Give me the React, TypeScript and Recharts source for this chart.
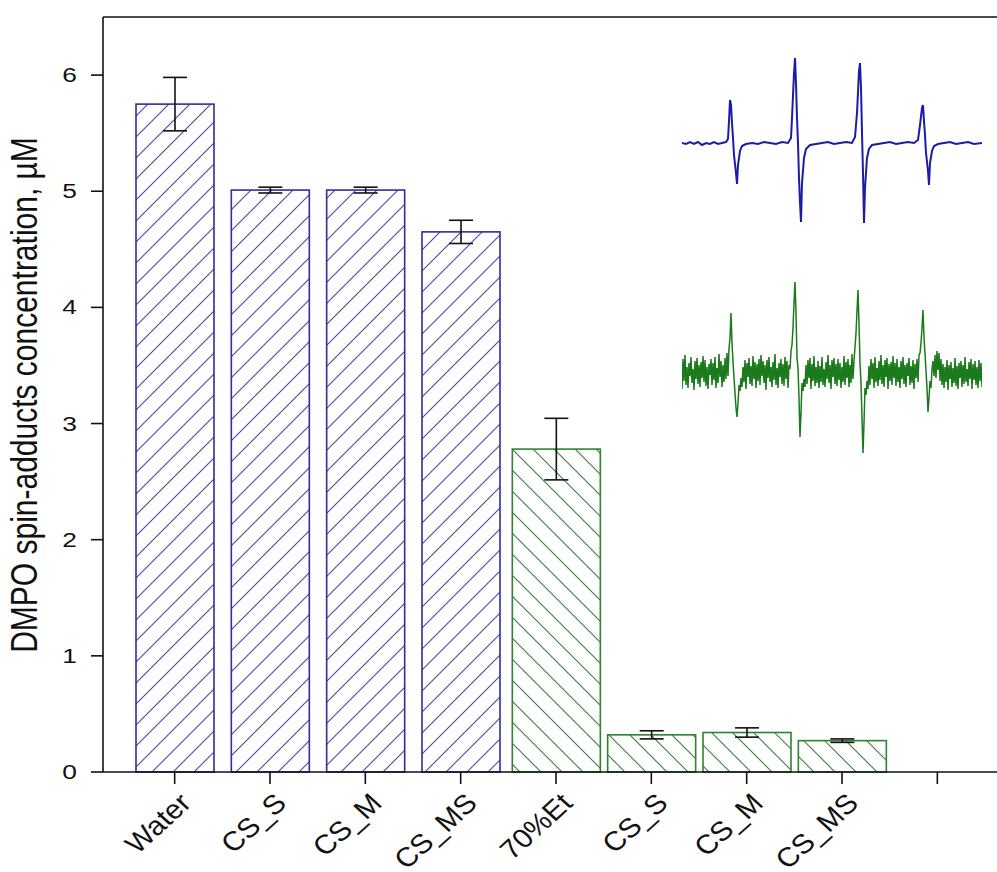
import { Bar, BarChart, ErrorBar, Label, Line, LineChart, ReferenceLine, XAxis, YAxis } from 'recharts';

// bar chart values
const samples = ['Water', 'CS_S', 'CS_M', 'CS_MS', '70%Et', 'CS_S', 'CS_M', 'CS_MS', ''];
const solvents = ['water', 'water', 'water', 'water', 'ethanol', 'ethanol', 'ethanol', 'ethanol', 'none'];
const concentration = [5.75, 5.01, 5.01, 4.65, 2.78, 0.32, 0.34, 0.27, null];
const concentrationSd = [0.23, 0.025, 0.025, 0.1, 0.265, 0.035, 0.04, 0.015, null];
const yTicks = [0, 1, 2, 3, 4, 5, 6];

// inset EPR spectra (field offset, signal)
const blueField = [
    0, 4, 8, 12, 16, 20, 24, 28, 32, 36, 40, 44, 46, 47, 48, 49, 50, 51, 52, 54, 55, 56, 58, 60, 64, 70, 76, 82, 88,
    94, 100, 106, 109, 110, 112, 113, 114, 115, 116, 117, 118, 119, 120, 122, 124, 128, 134, 140, 146, 152, 158, 164,
    170, 173, 175, 177, 178, 179, 180, 181, 182, 183, 185, 187, 190, 196, 202, 208, 214, 220, 226, 232, 236, 238, 240,
    241, 242, 243, 244, 246, 247, 248, 250, 252, 256, 262, 268, 274, 280, 286, 292, 300,
];
const blueSignal = [
    0, -1, 1, -1, 1, -2, 0, -1, 1, -1, 0, 1, 4, 22, 43, 38, 20, 5, -12, -30, -41, -22, -8, -3, -1, 0, -1, 1, 0,
    -1, 1, 0, 5, 25, 70, 85, 60, 25, 0, -35, -60, -79, -40, -15, -6, -2, -1, 0, 1, -1, 0, 1,
    0, 6, 30, 72, 80, 55, 10, -30, -80, -45, -15, -6, -2, -1, 0, 1, -1, 0, 1, 0, 3, 18, 35,
    38, 22, 8, -10, -28, -42, -20, -8, -3, -1, 0, 1, -1, 0, 1, -1, 0,
];
// noisy spectrum, one reading per field unit (0..300)
const greenSignal = [
    -16, 14, -8, 18, -12, 6, -15, 10, -3, 16, -10, 4, -17, 12, -6, 15, -11, 8, -14, 11,
    -5, 17, -9, 13, -13, 6, -16, 9, -2, 14, -12, 10, -7, 16, -15, 5, -10, 19, -4, 12,
    -14, 8, -9, 15, -6, 20, -3, 24, 35, 60, 30, 12, -5, -20, -35, -44, -30, -12, -18, -5,
    -14, 6, -9, 13, -16, 10, -4, 15, -11, 7, -13, 17, -6, 11, -15, 9, -8, 14, -12, 18,
    -3, 12, -10, 8, -17, 13, -5, 16, -9, 6, -14, 11, -7, 19, -12, 5, -15, 10, -4, 14,
    -11, 9, -13, 16, -6, 12, -15, 8, 4, 22, 28, 45, 70, 91, 60, 15, 5, -25, -64, -40,
    -10, -18, -6, -14, 8, -11, 13, -5, 15, -16, 9, -8, 17, -13, 6, -10, 12, -15, 7, -9,
    16, -12, 4, -14, 11, -6, 18, -10, 8, -16, 13, -4, 15, -11, 9, -13, 14, -7, 10, -15,
    6, -9, 17, -12, 11, -5, 14, -14, 8, -10, 19, -6, 12, 26, 40, 62, 83, 50, 10, -10,
    -45, -80, -50, -15, -22, -8, -16, 7, -12, 14, -6, 10, -15, 16, -9, 5, -13, 12, -7, 18,
    -11, 8, -14, 13, -4, 15, -16, 9, -8, 11, -12, 17, -5, 10, -13, 14, -9, 6, -15, 12,
    -6, 16, -11, 8, -14, 10, -3, 15, -12, 7, -10, 13, -16, 9, -5, 14, -9, 18, 20, 30,
    45, 63, 35, 20, 2, -15, -39, -25, -8, -15, 4, 12, -3, 18, -5, 22, 3, 20, -8, 14,
    -12, 9, -15, 6, -9, 13, -17, 8, -6, 11, -14, 5, -10, 15, -13, 7, -16, 10, -5, 12,
    -14, 8, -11, 16, -9, 4, -13, 11, -6, 14, -16, 9, -7, 12, -12, 6, -15, 13, -8, 10, -14,
];

const BLUE = '#2e2e9e';
const GREEN = '#2f832f';
const FONT = '"Liberation Sans", Arial, sans-serif';
// the source figure is stretched sideways, so its lettering is too
const STRETCH = 1.35;
const LABEL_STRETCH = 1.1;

const barData = samples.map((name, i) => ({
    name,
    solvent: solvents[i],
    value: concentration[i],
    sd: concentrationSd[i],
}));
const blueData = blueField.map((f, i) => ({ f, v: blueSignal[i] }));
const greenData = greenSignal.map((v, f) => ({ f, v }));

const HatchedBar = (props: any) => {
    const { x, y, width, height, payload } = props;
    if (payload == null || payload.value == null) return null;
    const water = payload.solvent === 'water';
    const grow = water ? 0 : 5;
    return (
        <rect
            x={x - grow}
            y={y}
            width={width + grow * 2}
            height={height}
            fill={water ? 'url(#hatch-blue)' : 'url(#hatch-green)'}
            stroke={water ? BLUE : GREEN}
            strokeWidth={1.6}
        />
    );
};

const SampleTick = (props: any) => {
    const { x, y, payload } = props;
    return (
        <text
            transform={`translate(${x + 3}, ${y + 5}) scale(${LABEL_STRETCH}, 1) rotate(-45)`}
            dy="0.72em"
            textAnchor="end"
            fontSize={27}
            fill="#111"
            fontFamily={FONT}
        >
            {payload.value}
        </text>
    );
};

const ValueTick = (props: any) => {
    const { x, y, payload } = props;
    return (
        <text
            transform={`translate(${x}, ${y}) scale(${STRETCH}, 1)`}
            dy="0.36em"
            textAnchor="end"
            fontSize={19.5}
            fill="#111"
            fontFamily={FONT}
        >
            {payload.value}
        </text>
    );
};

const YTitle = () => (
    <text
        transform="translate(37, 395) scale(1.2, 1) rotate(-90)"
        textAnchor="middle"
        fontSize={30}
        fill="#111"
        fontFamily={FONT}
    >
        DMPO spin-adducts concentration, µM
    </text>
);

export default function App() {
    return (
        <div style={{ position: 'fixed', left: 0, top: 0, width: 997, height: 872, overflow: 'hidden', background: '#fff' }}>
            <BarChart width={1040} height={872} data={barData} margin={{ top: 17, right: 31, bottom: 0, left: 0 }}>
                <defs>
                    <pattern id="hatch-blue" patternUnits="userSpaceOnUse" width={21} height={21}>
                        <rect width={21} height={21} fill="#fff" />
                        <path d="M0,21 L21,0 M-5,5 L5,-5 M16,26 L26,16" stroke="#4848a8" strokeWidth={1.1} />
                    </pattern>
                    <pattern id="hatch-green" patternUnits="userSpaceOnUse" width={21} height={21}>
                        <rect width={21} height={21} fill="#fff" />
                        <path d="M0,0 L21,21 M-5,16 L5,26 M16,-5 L26,5" stroke="#3d7d3d" strokeWidth={1.1} />
                    </pattern>
                </defs>
                <XAxis
                    dataKey="name"
                    interval={0}
                    height={100}
                    padding={{ left: 24, right: 24 }}
                    tickSize={12}
                    tick={<SampleTick />}
                    stroke="#111"
                    strokeWidth={1.6}
                />
                <YAxis
                    width={103}
                    domain={[0, 6.5]}
                    ticks={yTicks}
                    tickSize={12}
                    tickMargin={14}
                    stroke="#111"
                    strokeWidth={1.6}
                    tick={<ValueTick />}
                >
                    <Label content={<YTitle />} />
                </YAxis>
                <ReferenceLine y={6.5} stroke="#111" strokeWidth={1.6} />
                <Bar dataKey="value" barSize={78} shape={<HatchedBar />} isAnimationActive={false}>
                    <ErrorBar dataKey="sd" width={12} stroke="#111" strokeWidth={1.6} />
                </Bar>
            </BarChart>
            <div style={{ position: 'absolute', left: 682, top: 50 }}>
                <LineChart width={300} height={180} data={blueData} margin={{ top: 0, right: 0, bottom: 0, left: 0 }}>
                    <XAxis type="number" dataKey="f" domain={[0, 300]} hide />
                    <YAxis domain={[-87, 93]} hide />
                    <Line type="linear" dataKey="v" stroke="#1c1ca6" strokeWidth={2} dot={false} isAnimationActive={false} />
                </LineChart>
            </div>
            <div style={{ position: 'absolute', left: 682, top: 270 }}>
                <LineChart width={300} height={200} data={greenData} margin={{ top: 0, right: 0, bottom: 0, left: 0 }}>
                    <XAxis type="number" dataKey="f" domain={[0, 300]} hide />
                    <YAxis domain={[-97, 103]} hide />
                    <Line type="linear" dataKey="v" stroke="#1b7a1b" strokeWidth={1.5} dot={false} isAnimationActive={false} />
                </LineChart>
            </div>
        </div>
    );
}
